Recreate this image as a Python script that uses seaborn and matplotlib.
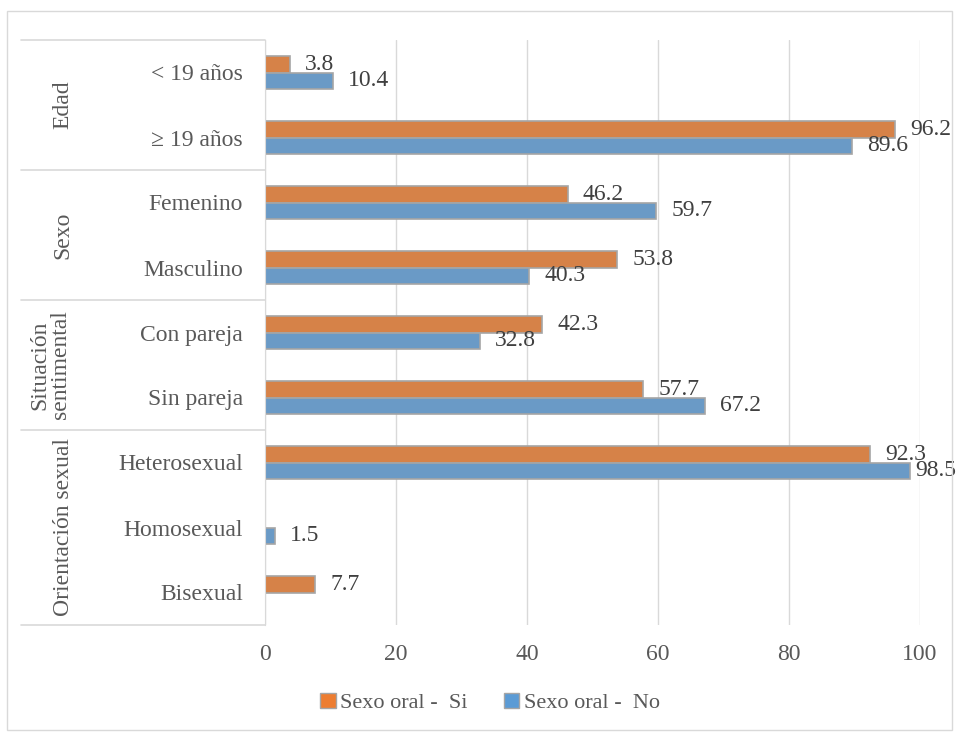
import pandas as pd
import numpy as np
import seaborn as sns
import matplotlib.pyplot as plt
from matplotlib.patches import Rectangle, Patch

# datos
categorias = ['< 19 años', '≥ 19 años', 'Femenino', 'Masculino', 'Con pareja',
              'Sin pareja', 'Heterosexual', 'Homosexual', 'Bisexual']
si = [3.8, 96.2, 46.2, 53.8, 42.3, 57.7, 92.3, None, 7.7]
no = [10.4, 89.6, 59.7, 40.3, 32.8, 67.2, 98.5, 1.5, None]
series = ['Sexo oral -  Si', 'Sexo oral -  No']
grupos = ['Edad', 'Sexo', 'Situación\nsentimental', 'Orientación sexual']
centros_grupo = [0.5, 2.5, 4.5, 7.0]
limites = [-0.5, 1.5, 3.5, 5.5, 8.5]
colores = ['#ED7D31', '#5B9BD5']

df = pd.DataFrame({'Categoría': categorias * 2,
                   'Serie': [series[0]] * len(categorias) + [series[1]] * len(categorias),
                   'Valor': si + no}).dropna()

sns.set_style('white')
plt.rcParams['font.family'] = ['Liberation Serif', 'DejaVu Serif']

fig = plt.figure(figsize=(9.59, 7.36), dpi=100)
ax = fig.add_axes([265 / 959, 1 - 625 / 736, (920 - 265) / 959, (625 - 40) / 736])

sns.barplot(data=df, y='Categoría', x='Valor', hue='Serie', order=categorias,
            hue_order=series, palette=colores, width=0.5, edgecolor='#A5A5A5',
            linewidth=1.2, orient='h', errorbar=None, legend=False, ax=ax)

for c in ax.containers:
    textos = ax.bar_label(c, fmt='%.1f', padding=11, fontsize=17, color='#404040')
    # etiqueta que no cabe: se acerca a la barra como en Excel
    for t, v in zip(textos, c.datavalues):
        if v > 97:
            t.xyann = (4, 0)

ax.set_xlim(0, 100)
ax.set_xticks(range(0, 101, 20))
ax.set_ylim(8.5, -0.5)
ax.set_xlabel('')
ax.set_ylabel('')
ax.grid(axis='x', color='#D9D9D9', lw=1)
ax.grid(axis='y', visible=False)
for s in ['top', 'right', 'bottom']:
    ax.spines[s].set_visible(False)
ax.spines['left'].set_color('#D9D9D9')
ax.tick_params(axis='y', length=0, pad=16, labelsize=17, labelcolor='#595959')
ax.tick_params(axis='x', length=0, pad=14, labelsize=17, labelcolor='#595959')

# separadores y etiquetas de grupo
tr = ax.get_yaxis_transform()
for y in limites:
    ax.plot([-0.3725, 0], [y, y], color='#D9D9D9', lw=1.2, transform=tr, clip_on=False)
for g, yc in zip(grupos, centros_grupo):
    xg = -0.328 if '\n' in g else -0.308
    ax.text(xg, yc, g, transform=tr, rotation=90, ha='center', va='center',
            fontsize=17, color='#595959', multialignment='center', linespacing=1.0)

# leyenda
handles = [Patch(facecolor=colores[i], edgecolor='#A5A5A5', label=series[i]) for i in range(2)]
fig.legend(handles=handles, loc='center', bbox_to_anchor=(490 / 959, 1 - 703 / 736),
           ncol=2, frameon=False, fontsize=16, handlelength=0.7, handleheight=0.7,
           handletextpad=0.2, columnspacing=1.6, labelcolor='#595959')

# borde del gráfico
fig.add_artist(Rectangle((7 / 959, 6 / 736), 945 / 959, 719 / 736, fill=False,
                         edgecolor='#D9D9D9', lw=1, transform=fig.transFigure))

fig.savefig('out.png', dpi=100)
